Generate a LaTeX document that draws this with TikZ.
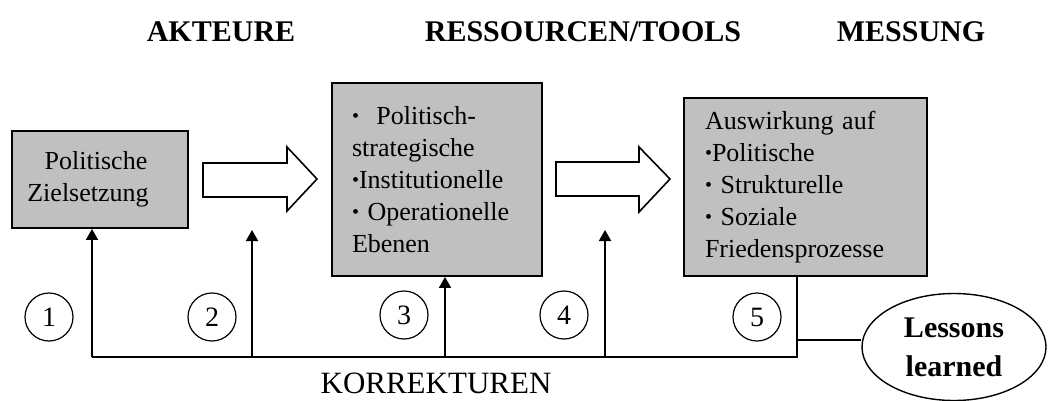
\documentclass[tikz,border=0pt]{standalone}
\usepackage{fontspec}
\setmainfont{Liberation Serif}
\usetikzlibrary{arrows.meta,shapes.geometric}
\definecolor{boxgray}{RGB}{192,192,192}
\begin{document}
\begin{tikzpicture}[x=1pt,y=-1pt,
  box/.style={draw=black,line width=1.8pt,fill=boxgray,inner sep=0pt},
  boxtext/.style={font=\fontsize{26}{32}\selectfont},
  heading/.style={font=\fontsize{30}{32}\selectfont\bfseries},
  numcircle/.style={circle,draw=black,line width=1.2pt,minimum size=48pt,inner sep=0pt,font=\fontsize{28}{28}\selectfont},
  blockarrow/.style={draw=black,line width=1.6pt,fill=white,line join=miter},
  feed/.style={draw=black,line width=1.8pt},
  feedarrow/.style={feed,-{Triangle[width=12pt,length=11pt]}}]
\newcommand{\bul}{{\fontsize{20}{20}\selectfont\raisebox{0.08em}{•}}}
\useasboundingbox (0,0) rectangle (1048,401);
% headings
\node[heading] (hA) at (221,32) {AKTEURE};
\node[heading] (hR) at (583,32) {RESSOURCEN/TOOLS};
\node[heading] (hM) at (911,32) {MESSUNG};
% boxes
\node[box,boxtext,minimum width=176pt,minimum height=97pt,align=center] (box1) at (100,179.5)
  {Politische\hspace*{8pt}\\Zielsetzung\hspace*{24pt}};
\node[box,boxtext,minimum width=210pt,minimum height=193pt,text width=170pt,align=left] (box2) at (437,179.5)
  {\bul\ \ Politisch-\\strategische\\\bul Institutionelle\\\bul\ Operationelle\\Ebenen};
\node[box,boxtext,minimum width=243pt,minimum height=178pt,text width=201pt,align=left] (box3) at (805.5,187)
  {Auswirkung auf\\\bul Politische\\\bul\ Strukturelle\\\bul\ Soziale\\Friedensprozesse};
% block arrows
\draw[blockarrow] (203,163) -- (287,163) -- (287,147) -- (317,179) -- (287,211) -- (287,197) -- (203,197) -- cycle;
\draw[blockarrow] (556,162) -- (639,162) -- (639,147) -- (670,179) -- (639,212) -- (639,196) -- (556,196) -- cycle;
% lessons learned
\node[ellipse,draw=black,line width=1.4pt,minimum width=184pt,minimum height=107pt,inner sep=0pt,
  align=center,font=\fontsize{30}{39}\selectfont\bfseries] (lessons) at (954,347) {Lessons\\learned};
% feedback line coordinates
\coordinate (k1) at (92,357);
\coordinate (k2) at (252,357);
\coordinate (k3) at (445,357);
\coordinate (k4) at (605,357);
\coordinate (k5) at (797,357);
\coordinate (f2) at (252,230);
\coordinate (f4) at (605,230);
\coordinate (j) at (797,340);
\draw[feed] (k1) -- (k5) -- (k5 |- box3.south);
\draw[feedarrow] (k1) -- (k1 |- box1.south);
\draw[feedarrow] (k2) -- (f2);
\draw[feedarrow] (k3) -- (k3 |- box2.south);
\draw[feedarrow] (k4) -- (f4);
\draw[feed] (j) -- (j -| lessons.west);
% numbered circles
\node[numcircle] (n1) at (49,317) {1};
\node[numcircle] (n2) at (212,317) {2};
\node[numcircle] (n3) at (404,315) {3};
\node[numcircle] (n4) at (564,315) {4};
\node[numcircle] (n5) at (757,317) {5};
% label
\node[font=\fontsize{31}{32}\selectfont] (korr) at (436,383) {KORREKTUREN};
\end{tikzpicture}
\end{document}
